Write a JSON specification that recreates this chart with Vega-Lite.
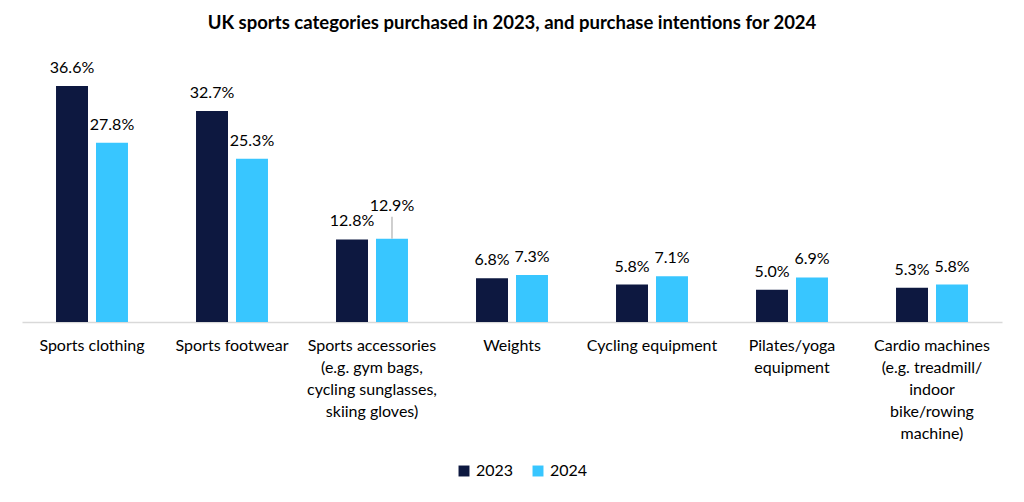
{
  "$schema": "https://vega.github.io/schema/vega-lite/v6.json",
  "autosize": {"type": "none"},
  "width": 980,
  "height": 258,
  "padding": {"left": 22, "top": 64, "right": 22, "bottom": 180},
  "background": "white",
  "title": {
    "text": "UK sports categories purchased in 2023, and purchase intentions for 2024",
    "font": "Lato",
    "fontSize": 18.5,
    "fontWeight": "bold",
    "color": "#000000",
    "anchor": "middle",
    "offset": 27
  },
  "config": {
    "view": {"stroke": null},
    "font": "Lato"
  },
  "data": {
    "values": [
      {"category": "Sports clothing", "year": "2023", "value": 36.6},
      {"category": "Sports clothing", "year": "2024", "value": 27.8},
      {"category": "Sports footwear", "year": "2023", "value": 32.7},
      {"category": "Sports footwear", "year": "2024", "value": 25.3},
      {"category": "Sports accessories|(e.g. gym bags,|cycling sunglasses,|skiing gloves)", "year": "2023", "value": 12.8},
      {"category": "Sports accessories|(e.g. gym bags,|cycling sunglasses,|skiing gloves)", "year": "2024", "value": 12.9},
      {"category": "Weights", "year": "2023", "value": 6.8},
      {"category": "Weights", "year": "2024", "value": 7.3},
      {"category": "Cycling equipment", "year": "2023", "value": 5.8},
      {"category": "Cycling equipment", "year": "2024", "value": 7.1},
      {"category": "Pilates/yoga|equipment", "year": "2023", "value": 5.0},
      {"category": "Pilates/yoga|equipment", "year": "2024", "value": 6.9},
      {"category": "Cardio machines|(e.g. treadmill/|indoor|bike/rowing|machine)", "year": "2023", "value": 5.3},
      {"category": "Cardio machines|(e.g. treadmill/|indoor|bike/rowing|machine)", "year": "2024", "value": 5.8}
    ]
  },
  "encoding": {
    "x": {
      "field": "category",
      "type": "nominal",
      "sort": null,
      "scale": {"paddingInner": 0.486, "paddingOuter": 0.243},
      "axis": {
        "title": null,
        "labelExpr": "split(datum.label, '|')",
        "labelAngle": 0,
        "labelFont": "Lato",
        "labelFontSize": 16,
        "labelColor": "#000000",
        "labelLineHeight": 22,
        "labelPadding": 15,
        "labelLimit": 200,
        "ticks": false,
        "domainColor": "#D9D9D9",
        "domainWidth": 1.5
      }
    },
    "xOffset": {"field": "year", "type": "nominal", "scale": {"paddingInner": 0.2}},
    "y": {
      "field": "value",
      "type": "quantitative",
      "scale": {"domain": [0, 40]},
      "axis": null
    }
  },
  "layer": [
    {
      "mark": {"type": "bar"},
      "encoding": {
        "color": {
          "field": "year",
          "type": "nominal",
          "scale": {"domain": ["2023", "2024"], "range": ["#0D1840", "#38C6FF"]},
          "legend": {
            "title": null,
            "orient": "none",
            "direction": "horizontal",
            "legendX": 434,
            "legendY": 399,
            "symbolType": "square",
            "symbolSize": 120,
            "symbolStrokeWidth": 0,
            "labelFont": "Lato",
            "labelFontSize": 16,
            "labelColor": "#000000",
            "columnPadding": 16
          }
        }
      }
    },
    {
      "transform": [{"filter": "!(datum.value == 12.9)"}, {"calculate": "format(datum.value, '.1f') + '%'", "as": "lbl"}],
      "mark": {"type": "text", "dy": -18, "font": "Lato", "fontSize": 16, "color": "#000000"},
      "encoding": {"text": {"field": "lbl"}}
    },
    {
      "transform": [{"filter": "datum.value == 12.9"}],
      "mark": {"type": "rule", "color": "#BFBFBF", "strokeWidth": 1.5},
      "encoding": {"y2": {"datum": 16.3}}
    },
    {
      "transform": [{"filter": "datum.value == 12.9"}, {"calculate": "format(datum.value, '.1f') + '%'", "as": "lbl"}],
      "mark": {"type": "text", "dy": -33, "font": "Lato", "fontSize": 16, "color": "#000000"},
      "encoding": {"text": {"field": "lbl"}}
    }
  ]
}
